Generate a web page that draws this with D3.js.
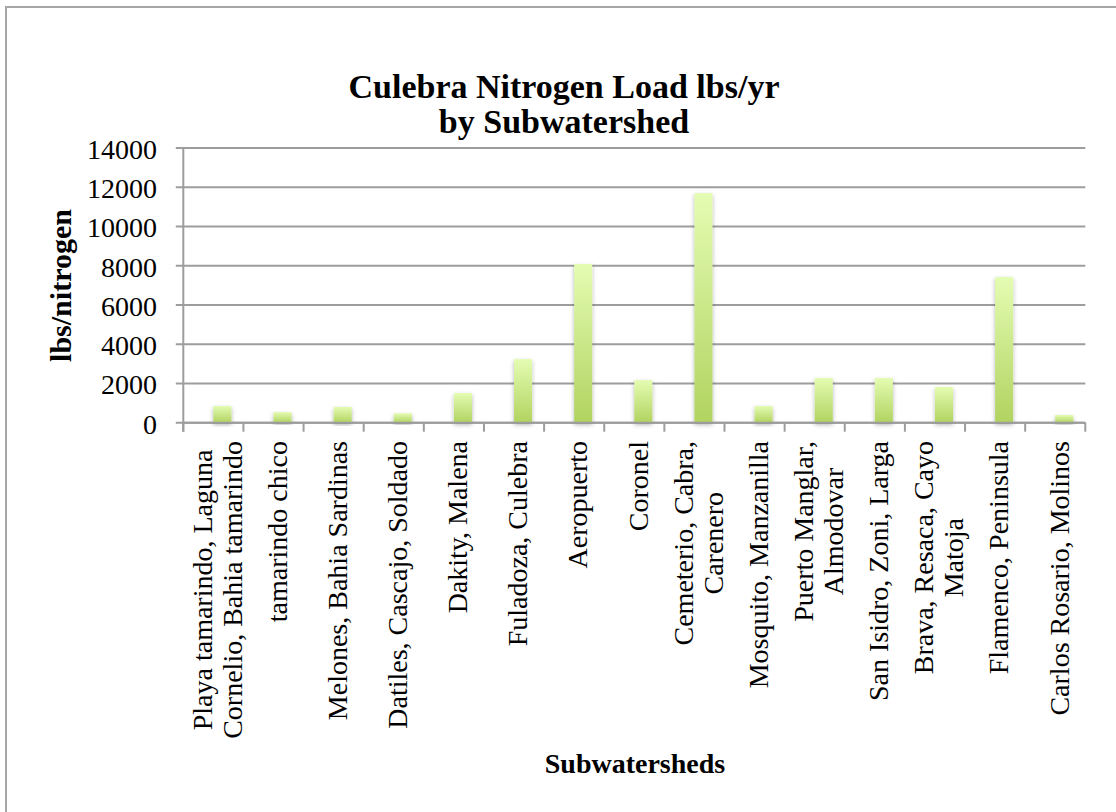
<!DOCTYPE html>
<html>
<head>
<meta charset="utf-8">
<script src="https://cdn.jsdelivr.net/npm/d3@7"></script>
<style>
  html, body { margin: 0; padding: 0; background: #fff; }
  svg { display: block; }
  text { font-family: "Liberation Serif", "Times New Roman", serif; fill: #000; }
</style>
</head>
<body>
<svg id="chart" width="1116" height="812"></svg>
<script>
// ---- data ----
const categories = [
  "Playa tamarindo, Laguna\nCornelio, Bahia tamarindo",
  "tamarindo chico",
  "Melones, Bahia Sardinas",
  "Datiles, Cascajo, Soldado",
  "Dakity, Malena",
  "Fuladoza, Culebra",
  "Aeropuerto",
  "Coronel",
  "Cemeterio, Cabra,\nCarenero",
  "Mosquito, Manzanilla",
  "Puerto Manglar,\nAlmodovar",
  "San Isidro, Zoni, Larga",
  "Brava, Resaca, Cayo\nMatoja",
  "Flamenco, Peninsula",
  "Carlos Rosario, Molinos"
];
const nitrogenLoad = [850, 540, 800, 480, 1510, 3240, 8090, 2170, 11700, 850, 2280, 2280, 1820, 7420, 390];
const yTicks = [0, 2000, 4000, 6000, 8000, 10000, 12000, 14000];
const titleLines = ["Culebra Nitrogen Load lbs/yr", "by Subwatershed"];
const yAxisTitle = "lbs/nitrogen";
const xAxisTitle = "Subwatersheds";

// ---- layout ----
const svg = d3.select("#chart");
const plot = { left: 183.3, right: 1085.3, top: 148, bottom: 422.7 };
const gridColor = "#9d9d9d";

// chart border
svg.append("rect")
  .attr("x", 6).attr("y", 7).attr("width", 1200).attr("height", 900)
  .attr("fill", "none").attr("stroke", "#a6a6a6").attr("stroke-width", 2);

const x = d3.scaleBand().domain(categories).range([plot.left, plot.right]).padding(0);
const y = d3.scaleLinear().domain([0, 14000]).range([plot.bottom, plot.top]);

const defs = svg.append("defs");
const grad = defs.append("linearGradient").attr("id", "barGrad")
  .attr("x1", 0).attr("y1", 0).attr("x2", 0).attr("y2", 1);
grad.append("stop").attr("offset", "0%").attr("stop-color", "#e4fcb2");
grad.append("stop").attr("offset", "100%").attr("stop-color", "#b1d360");
const shadow = defs.append("filter").attr("id", "shadow")
  .attr("x", "-50%").attr("y", "-10%").attr("width", "200%").attr("height", "130%");
shadow.append("feDropShadow").attr("dx", 0).attr("dy", 2).attr("stdDeviation", 2.2)
  .attr("flood-color", "#000").attr("flood-opacity", 0.3);

// gridlines (extend left as ticks)
svg.append("g").selectAll("line").data(yTicks).join("line")
  .attr("x1", plot.left - 7.5).attr("x2", plot.right)
  .attr("y1", d => y(d)).attr("y2", d => y(d))
  .attr("stroke", gridColor).attr("stroke-width", 2);

// y axis line
svg.append("line")
  .attr("x1", plot.left).attr("x2", plot.left)
  .attr("y1", plot.top).attr("y2", plot.bottom + 9)
  .attr("stroke", gridColor).attr("stroke-width", 2);

// x ticks at band boundaries
const boundaries = categories.map(c => x(c)).concat([plot.right]);
svg.append("g").selectAll("line").data(boundaries).join("line")
  .attr("x1", d => d).attr("x2", d => d)
  .attr("y1", plot.bottom).attr("y2", plot.bottom + 9)
  .attr("stroke", gridColor).attr("stroke-width", 2);

// y tick labels
svg.append("g").selectAll("text").data(yTicks).join("text")
  .attr("x", 157).attr("y", d => y(d) + 11)
  .attr("text-anchor", "end").attr("font-size", 28)
  .text(d => d);

// bars
svg.append("g").selectAll("rect").data(nitrogenLoad).join("rect")
  .attr("x", (d, i) => x(categories[i]) + x.bandwidth() / 2)
  .attr("width", x.bandwidth() * 0.3)
  .attr("y", d => y(d))
  .attr("height", d => y(0) - y(d))
  .attr("fill", "url(#barGrad)")
  .attr("filter", "url(#shadow)");

// x axis line on top of bars
svg.append("line")
  .attr("x1", plot.left).attr("x2", plot.right)
  .attr("y1", plot.bottom).attr("y2", plot.bottom)
  .attr("stroke", gridColor).attr("stroke-width", 2);

// category labels (rotated, multi-line centered)
const lineH = 30;
categories.forEach(cat => {
  const lines = cat.split("\n");
  const cx = x(cat) + x.bandwidth() / 2 + 3.5;
  const g = svg.append("g").attr("transform", `translate(${cx},441) rotate(-90)`);
  const texts = lines.map((ln, i) => g.append("text")
    .attr("font-size", 28)
    .attr("y", (i - (lines.length - 1) / 2) * lineH + 9.8)
    .attr("text-anchor", "middle")
    .text(ln));
  const maxW = d3.max(texts, t => t.node().getComputedTextLength());
  texts.forEach(t => t.attr("x", -maxW / 2));
});

// titles
svg.append("g").selectAll("text").data(titleLines).join("text")
  .attr("x", 564).attr("y", (d, i) => 98 + i * 35)
  .attr("text-anchor", "middle").attr("font-size", 34).attr("font-weight", "bold")
  .text(d => d);

svg.append("text")
  .attr("transform", "translate(71,285.5) rotate(-90)")
  .attr("text-anchor", "middle").attr("font-size", 30).attr("font-weight", "bold")
  .text(yAxisTitle);

svg.append("text")
  .attr("x", 635).attr("y", 773)
  .attr("text-anchor", "middle").attr("font-size", 28).attr("font-weight", "bold")
  .text(xAxisTitle);
</script>
</body>
</html>
